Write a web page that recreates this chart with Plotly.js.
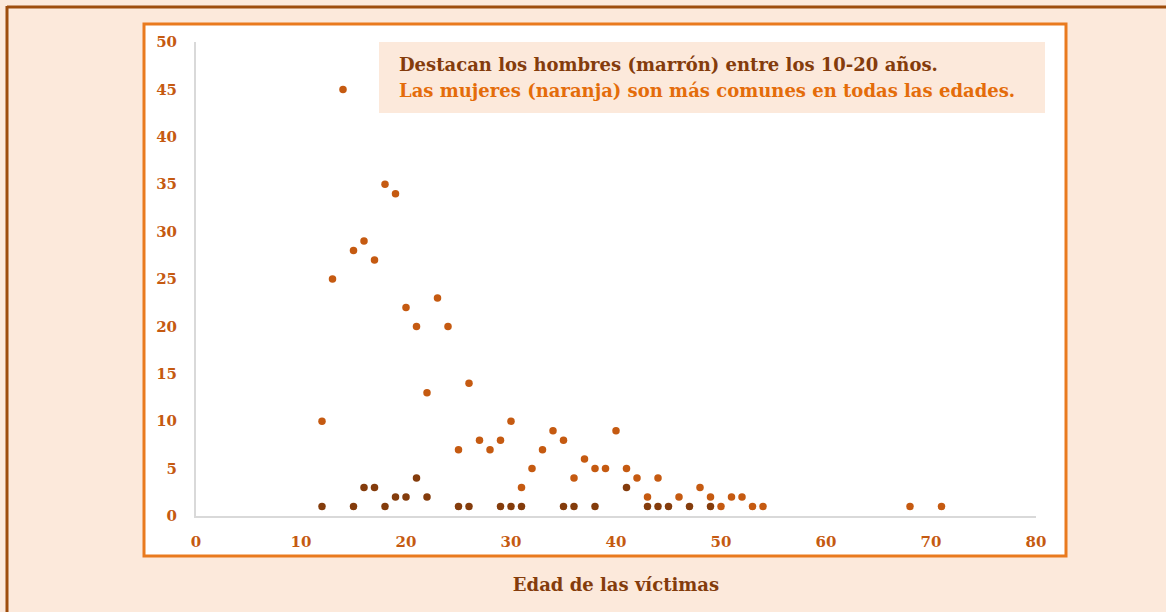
<!DOCTYPE html>
<html>
<head>
<meta charset="utf-8">
<script src="https://cdn.plot.ly/plotly-3.0.1.min.js"></script>
<style>html,body{margin:0;padding:0;background:#FCE9DB;}#chart{width:1166px;height:612px;}</style>
</head>
<body>
<div id="chart"></div>
<script>
// Data
const womenAges = [12,13,14,15,16,17,18,19,20,21,22,23,24,25,26,27,28,29,30,31,32,33,34,35,36,37,38,39,40,41,42,43,44,46,48,49,50,51,52,53,54,68,71];
const womenCounts = [10,25,45,28,29,27,35,34,22,20,13,23,20,7,14,8,7,8,10,3,5,7,9,8,4,6,5,5,9,5,4,2,4,2,3,2,1,2,2,1,1,1,1];
const menAges = [12,15,16,17,18,19,20,21,22,25,26,29,30,31,35,36,38,41,43,44,45,47,49];
const menCounts = [1,1,3,3,1,2,2,4,2,1,1,1,1,1,1,1,1,3,1,1,1,1,1];
const xTicks = [0,10,20,30,40,50,60,70,80];
const yTicks = [0,5,10,15,20,25,30,35,40,45,50];
const noteLine1 = 'Destacan los hombres (marrón) entre los 10-20 años.';
const noteLine2 = 'Las mujeres (naranja) son más comunes en todas las edades.';
const xTitle = 'Edad de las víctimas';

const W = 1166, H = 612;
const M = {l:196, r:130, t:42, b:96};
const pw = W - M.l - M.r, ph = H - M.t - M.b;
const px = v => (v - M.l) / pw;
const py = v => (H - M.b - v) / ph;

const ORANGE = '#C55A11', BROWN = '#843C0C';
const tickFont = {family:'DejaVu Serif, serif', size:15, color:ORANGE, weight:'bold'};

const traces = [
  {x: womenAges, y: womenCounts, type:'scatter', mode:'markers', name:'Mujeres',
   marker:{color:ORANGE, size:7.5, line:{width:0}}, cliponaxis:false},
  {x: menAges, y: menCounts, type:'scatter', mode:'markers', name:'Hombres',
   marker:{color:BROWN, size:7.5, line:{width:0}}, cliponaxis:false}
];

const layout = {
  width:W, height:H,
  margin:M,
  paper_bgcolor:'#FCE9DB',
  plot_bgcolor:'rgba(0,0,0,0)',
  showlegend:false,
  xaxis:{range:[0,80], tickvals:xTicks, ticktext:xTicks.map(String), showgrid:false, zeroline:false,
         showline:true, linecolor:'#D9D9D9', linewidth:2, ticks:'outside', ticklen:11, tickcolor:'rgba(0,0,0,0)',
         tickfont:tickFont, automargin:false,
         title:{text:xTitle, standoff:28, font:{family:'DejaVu Serif, serif', size:18, color:BROWN, weight:'bold'}}},
  yaxis:{range:[0,50], tickvals:yTicks, ticktext:yTicks.map(String), showgrid:false, zeroline:false,
         showline:true, linecolor:'#D9D9D9', linewidth:2, ticks:'outside', ticklen:14, tickcolor:'rgba(0,0,0,0)',
         tickfont:tickFont, automargin:false},
  shapes:[
    {type:'rect', xref:'paper', yref:'paper', layer:'below', x0:px(144), x1:px(1066), y0:py(556), y1:py(24),
     fillcolor:'#FFFFFF', line:{color:'#E97A1E', width:3}},
    {type:'rect', xref:'paper', yref:'paper', layer:'below', x0:px(379), x1:px(1045), y0:py(113), y1:py(42),
     fillcolor:'#FCE9DB', line:{width:0}},
    {type:'line', xref:'paper', yref:'paper', x0:px(7), x1:px(1170), y0:py(7), y1:py(7),
     line:{color:'#9E4D0C', width:3}},
    {type:'line', xref:'paper', yref:'paper', x0:px(7), x1:px(7), y0:py(6), y1:py(620),
     line:{color:'#9E4D0C', width:3}}
  ],
  annotations:[
    {xref:'paper', yref:'paper', x:px(397), y:py(65), xanchor:'left', yanchor:'middle', showarrow:false,
     text:'<b>'+noteLine1+'</b>', font:{family:'DejaVu Serif, serif', size:18, color:BROWN}},
    {xref:'paper', yref:'paper', x:px(397), y:py(91), xanchor:'left', yanchor:'middle', showarrow:false,
     text:'<b>'+noteLine2+'</b>', font:{family:'DejaVu Serif, serif', size:18, color:'#E46C0A'}}
  ]
};

Plotly.newPlot('chart', traces, layout, {displayModeBar:false, staticPlot:true});
</script>
</body>
</html>
